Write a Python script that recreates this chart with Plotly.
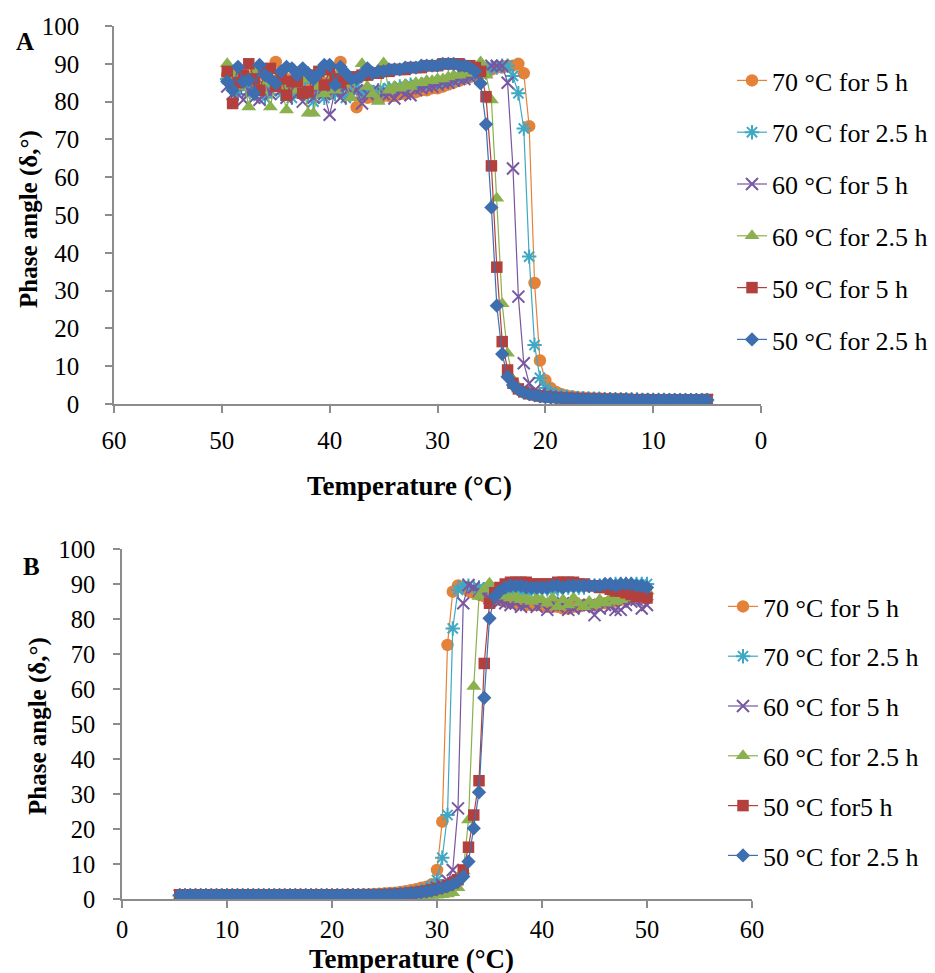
import plotly.graph_objects as go

# ---------------- DATA ----------------
NAMES_A = ["70 °C for 5 h", "70 °C for 2.5 h", "60 °C for 5 h",
           "60 °C for 2.5 h", "50 °C for 5 h", "50 °C for 2.5 h"]
NAMES_B = ["70 °C for 5 h", "70 °C for 2.5 h", "60 °C for 5 h",
           "60 °C for 2.5 h", "50 °C for5 h", "50 °C for 2.5 h"]

# Panel A: cooling scan (temperature decreasing)
TEMP_A = [49.5, 49.0, 48.5, 48.0, 47.5, 47.0, 46.5, 46.0, 45.5, 45.0,
          44.5, 44.0, 43.5, 43.0, 42.5, 42.0, 41.5, 41.0, 40.5, 40.0,
          39.5, 39.0, 38.5, 38.0, 37.5, 37.0, 36.5, 36.0, 35.5, 35.0,
          34.5, 34.0, 33.5, 33.0, 32.5, 32.0, 31.5, 31.0, 30.5, 30.0,
          29.5, 29.0, 28.5, 28.0, 27.5, 27.0, 26.5, 26.0, 25.5, 25.0,
          24.5, 24.0, 23.5, 23.0, 22.5, 22.0, 21.5, 21.0, 20.5, 20.0,
          19.5, 19.0, 18.5, 18.0, 17.5, 17.0, 16.5, 16.0, 15.5, 15.0,
          14.5, 14.0, 13.5, 13.0, 12.5, 12.0, 11.5, 11.0, 10.5, 10.0,
          9.5, 9.0, 8.5, 8.0, 7.5, 7.0, 6.5, 6.0, 5.5, 5.0]

A_70_5 = [87, 86, 88, 85, 84, 86, 83, 87, 85, 90.5,
          84, 86, 83, 85, 82, 84, 86, 83, 85, 82,
          84, 90.5, 85, 83, 78.5, 82, 81, 81.5, 81, 81.5,
          81.5, 81.5, 82, 82, 82.5, 82.5, 83, 83, 83.5, 83.5,
          84, 84.5, 85, 85.5, 86, 86.5, 87, 87.5, 88, 88.5,
          89, 89, 89.5, 89.5, 90, 87.5, 73.5, 32, 11.5, 6.3,
          4.2, 3.2, 2.6, 2.2, 2.0, 1.8, 1.7, 1.6, 1.5, 1.5,
          1.4, 1.4, 1.3, 1.3, 1.3, 1.2, 1.2, 1.2, 1.2, 1.1,
          1.1, 1.1, 1.1, 1.1, 1.0, 1.0, 1.0, 1.0, 1.0, 1.0]
A_70_25 = [86, 84, 82, 85, 83, 82, 84, 81, 83, 85,
           82, 84, 81, 83, 85, 82, 80, 83, 81, 84,
           82, 83, 81, 82, 84, 82, 83, 82.5, 83, 83,
           83.5, 83.5, 84, 84, 84.5, 84.5, 84.5, 85, 85, 85,
           85, 85.5, 85.5, 86, 86.5, 87, 87.5, 88, 88.5, 89,
           89, 89.5, 89.5, 86.8, 82.2, 72.9, 39, 15.6, 6.9, 4.2,
           3.0, 2.4, 2.1, 1.9, 1.7, 1.6, 1.5, 1.5, 1.4, 1.4,
           1.3, 1.3, 1.3, 1.2, 1.2, 1.2, 1.2, 1.1, 1.1, 1.1,
           1.1, 1.1, 1.0, 1.0, 1.0, 1.0, 1.0, 1.0, 1.0, 1.0]
A_60_5 = [84, 82, 86, 80.5, 83, 81, 80.5, 84, 82, 85,
          83, 81, 84, 82, 80, 83, 81, 84, 82, 76.5,
          83, 81, 84, 82, 83, 79.5, 82, 83, 81, 82,
          82, 80.8, 83, 82, 81.7, 83, 83.5, 84, 84, 84.5,
          85, 85, 85.5, 86, 86, 86.5, 87, 87.5, 88, 89.5,
          89.5, 89.5, 85, 62.3, 28.4, 10.8, 5.5, 3.6, 2.7, 2.2,
          1.9, 1.7, 1.6, 1.5, 1.4, 1.4, 1.3, 1.3, 1.3, 1.2,
          1.2, 1.2, 1.2, 1.1, 1.1, 1.1, 1.1, 1.1, 1.0, 1.0,
          1.0, 1.0, 1.0, 1.0, 1.0, 1.0, 1.0, 1.0, 1.0, 1.0]
A_60_25 = [90, 87, 84, 86, 78.6, 88, 83, 85, 78.6, 86,
           84, 77.8, 85, 83, 86, 76.9, 76.9, 84, 82, 86,
           83, 88, 85, 81, 86, 90, 84, 82, 80, 90.2,
           83, 84, 83.5, 84.5, 84, 85, 85, 85.5, 85.5, 86,
           86, 86.5, 87, 87, 87.5, 87.5, 88, 90.5, 87, 80.4,
           54.4, 26.5, 13.4, 6.5, 4.0, 3.0, 2.4, 2.0, 1.7, 1.5,
           1.3, 1.2, 1.1, 1.0, 1.0, 0.9, 0.9, 0.9, 0.8, 0.8,
           0.8, 0.8, 0.7, 0.7, 0.7, 0.7, 0.7, 0.6, 0.6, 0.6,
           0.6, 0.6, 0.6, 0.5, 0.5, 0.5, 0.5, 0.5, 0.5, 0.5]
A_50_5 = [88, 79.5, 85, 87, 90, 86, 83, 88, 88.8, 84,
          86, 81.7, 85.3, 85.3, 82.2, 82.6, 87, 88, 84.4, 88.4,
          86, 85, 86, 86.5, 86.5, 87, 87, 87.5, 87.5, 88,
          88, 88.5, 88.5, 88.5, 89, 89, 89, 89.5, 89.5, 89.5,
          90, 90, 90, 90, 89.5, 89.5, 89, 88, 81.3, 63,
          36.2, 16.5, 9.0, 5.5, 4.0, 3.2, 2.7, 2.4, 2.1, 1.9,
          1.8, 1.7, 1.6, 1.5, 1.5, 1.4, 1.4, 1.3, 1.3, 1.3,
          1.2, 1.2, 1.2, 1.2, 1.2, 1.1, 1.1, 1.1, 1.1, 1.1,
          1.1, 1.1, 1.1, 1.1, 1.1, 1.1, 1.1, 1.1, 1.1, 1.2]
A_50_25 = [85.3, 83, 89.2, 85.3, 85.7, 82.2, 89.7, 87, 86, 84.8,
           88, 89.2, 88.8, 87, 88.8, 87.5, 86, 87.5, 89.7, 89.7,
           84.4, 89.2, 87.5, 86, 86.1, 87, 88.8, 87.5, 88, 88,
           88.5, 88.5, 88.5, 89, 89, 89, 89.5, 89.5, 89.5, 89.5,
           90, 90, 90, 89.5, 89.5, 89, 88, 84.8, 74, 52,
           26, 13.2, 7.2, 5.0, 3.8, 3.0, 2.6, 2.3, 2.0, 1.8,
           1.7, 1.6, 1.5, 1.5, 1.4, 1.4, 1.3, 1.3, 1.3, 1.2,
           1.2, 1.2, 1.2, 1.2, 1.2, 1.2, 1.1, 1.1, 1.1, 1.1,
           1.1, 1.1, 1.1, 1.1, 1.1, 1.1, 1.1, 1.1, 1.1, 1.1]

# Panel B: heating scan (temperature increasing)
TEMP_B = [5.5, 6.0, 6.5, 7.0, 7.5, 8.0, 8.5, 9.0, 9.5, 10.0,
          10.5, 11.0, 11.5, 12.0, 12.5, 13.0, 13.5, 14.0, 14.5, 15.0,
          15.5, 16.0, 16.5, 17.0, 17.5, 18.0, 18.5, 19.0, 19.5, 20.0,
          20.5, 21.0, 21.5, 22.0, 22.5, 23.0, 23.5, 24.0, 24.5, 25.0,
          25.5, 26.0, 26.5, 27.0, 27.5, 28.0, 28.5, 29.0, 29.5, 30.0,
          30.5, 31.0, 31.5, 32.0, 32.5, 33.0, 33.5, 34.0, 34.5, 35.0,
          35.5, 36.0, 36.5, 37.0, 37.5, 38.0, 38.5, 39.0, 39.5, 40.0,
          40.5, 41.0, 41.5, 42.0, 42.5, 43.0, 43.5, 44.0, 44.5, 45.0,
          45.5, 46.0, 46.5, 47.0, 47.5, 48.0, 48.5, 49.0, 49.5, 50.0]

B_70_5 = [1.0, 1.0, 1.0, 1.0, 1.0, 1.0, 1.0, 1.0, 1.0, 1.0,
          1.0, 1.0, 1.0, 1.0, 1.0, 1.0, 1.0, 1.0, 1.0, 1.0,
          1.0, 1.0, 1.0, 1.0, 1.0, 1.1, 1.1, 1.1, 1.1, 1.1,
          1.1, 1.1, 1.2, 1.2, 1.2, 1.3, 1.3, 1.4, 1.5, 1.6,
          1.7, 1.8, 2.0, 2.2, 2.5, 2.8, 3.2, 3.5, 4.2, 8.3,
          22.1, 72.6, 87.8, 89.6, 89, 88, 87.5, 87, 86.5, 86,
          85.5, 85.5, 85, 85, 84.5, 84.5, 84, 84, 84, 84,
          83.5, 83.5, 83.5, 83, 83, 83.5, 83.5, 84, 84, 84,
          84.5, 84.5, 85, 85, 85.5, 85.5, 86, 86, 86.5, 87]
B_70_25 = [1.0, 1.0, 1.0, 1.0, 1.0, 1.0, 1.0, 1.0, 1.0, 1.0,
           1.0, 1.0, 1.0, 1.0, 1.0, 1.0, 1.0, 1.0, 1.0, 1.0,
           1.0, 1.0, 1.0, 1.0, 1.0, 1.0, 1.0, 1.0, 1.0, 1.0,
           1.0, 1.0, 1.0, 1.1, 1.1, 1.1, 1.1, 1.1, 1.1, 1.2,
           1.2, 1.3, 1.4, 1.5, 1.7, 2.0, 2.4, 2.9, 3.6, 5.4,
           11.8, 24, 77.3, 88.3, 89.5, 89.5, 89, 89, 88.5, 88.5,
           88.5, 88.5, 88, 88, 88, 88, 88, 88, 88.5, 88.5,
           88.5, 88.5, 88.5, 89, 89, 89, 89, 89, 89.5, 89.5,
           89.5, 89.5, 89.5, 90, 90, 90, 90, 90, 90, 90]
B_60_5 = [1.0, 1.0, 1.0, 1.0, 1.0, 1.0, 1.0, 1.0, 1.0, 1.0,
          1.0, 1.0, 1.0, 1.0, 1.0, 1.0, 1.0, 1.0, 1.0, 1.0,
          1.0, 1.0, 1.0, 1.0, 1.0, 1.0, 1.0, 1.0, 1.0, 1.0,
          1.0, 1.0, 1.0, 1.0, 1.0, 1.0, 1.0, 1.0, 1.0, 1.0,
          1.0, 1.1, 1.2, 1.3, 1.4, 1.6, 1.8, 2.1, 2.6, 3.2,
          4.0, 5.2, 8.3, 25.9, 84.5, 89.7, 89, 88, 87, 86,
          85.5, 85, 84.5, 84, 84.5, 83.5, 84, 85, 83.5, 84,
          82.6, 84, 83.5, 84.5, 82.6, 83, 84, 83.5, 84, 81.1,
          83, 84, 83.5, 82.6, 82.6, 84, 85, 85.5, 83, 84]
B_60_25 = [0.7, 0.7, 0.7, 0.7, 0.7, 0.7, 0.7, 0.7, 0.7, 0.7,
           0.7, 0.7, 0.7, 0.7, 0.7, 0.7, 0.7, 0.7, 0.7, 0.7,
           0.7, 0.7, 0.7, 0.7, 0.7, 0.7, 0.7, 0.7, 0.7, 0.7,
           0.7, 0.7, 0.7, 0.7, 0.7, 0.7, 0.8, 0.8, 0.8, 0.8,
           0.8, 0.8, 0.8, 0.8, 0.8, 0.9, 0.9, 1.0, 1.0, 1.1,
           1.2, 1.4, 1.8, 3.2, 8.0, 22.6, 60.7, 86.4, 88.5, 90.2,
           88, 87, 86.5, 86, 86.5, 85.5, 86, 85, 86, 85.5,
           84.5, 86, 83.5, 85.5, 84, 86, 84.5, 83.5, 85, 84,
           85.5, 84.5, 86, 85, 85.5, 86, 86.5, 87, 87.5, 88]
B_50_5 = [1.2, 1.2, 1.2, 1.2, 1.2, 1.2, 1.2, 1.2, 1.2, 1.2,
          1.2, 1.2, 1.2, 1.2, 1.2, 1.2, 1.2, 1.2, 1.2, 1.2,
          1.2, 1.2, 1.2, 1.2, 1.2, 1.2, 1.2, 1.2, 1.2, 1.2,
          1.2, 1.2, 1.2, 1.2, 1.2, 1.2, 1.2, 1.2, 1.2, 1.3,
          1.3, 1.4, 1.5, 1.6, 1.7, 1.9, 2.1, 2.3, 2.6, 3.0,
          3.4, 3.9, 4.6, 5.5, 8.3, 14.8, 24, 33.8, 67.3, 84.5,
          87.5, 89, 90, 90.5, 90.5, 90.5, 90.5, 90, 90, 90,
          90, 90, 90.5, 90.5, 90.5, 90.5, 90, 90, 89.5, 89.5,
          89, 89, 88.5, 88, 88, 87.5, 87, 86.5, 86.5, 86]
B_50_25 = [1.1, 1.1, 1.1, 1.1, 1.1, 1.1, 1.1, 1.1, 1.1, 1.1,
           1.1, 1.1, 1.1, 1.1, 1.1, 1.1, 1.1, 1.1, 1.1, 1.1,
           1.1, 1.1, 1.1, 1.1, 1.1, 1.1, 1.1, 1.1, 1.1, 1.1,
           1.1, 1.1, 1.1, 1.1, 1.1, 1.1, 1.1, 1.1, 1.1, 1.2,
           1.2, 1.3, 1.4, 1.5, 1.6, 1.7, 1.9, 2.1, 2.4, 2.8,
           3.2, 3.6, 4.2, 5.0, 6.4, 10.7, 20.2, 30.5, 57.5, 80.2,
           86.4, 88, 89, 89.5, 89.5, 89.5, 89, 89, 89, 89,
           89, 89.5, 89.5, 89, 89.5, 89.5, 89.5, 89.5, 89.5, 89.5,
           89.5, 90, 90, 89.5, 90, 90, 90, 89.5, 89.5, 89]

SERIES_A = [A_70_5, A_70_25, A_60_5, A_60_25, A_50_5, A_50_25]
SERIES_B = [B_70_5, B_70_25, B_60_5, B_60_25, B_50_5, B_50_25]

# ---------------- STYLE ----------------
COLORS = ["#E5823A", "#3FA8C4", "#7657A0", "#8BB04E", "#B3403D", "#3D6EB0"]
SYMBOLS = ["circle", "asterisk-open", "x-thin-open", "triangle-up", "square", "diamond"]
SIZES = [12.5, 12, 12, 13, 11.5, 11]
FONT = "Liberation Serif, Times New Roman, serif"
W, H = 935, 973
AXIS_COLOR = "#8C8C8C"


def px_x(p):
    return p / W


def px_y(p):
    return 1 - p / H


fig = go.Figure()

for k in range(6):
    marker = dict(symbol=SYMBOLS[k], size=SIZES[k], color=COLORS[k],
                  line=dict(width=2 if "open" in SYMBOLS[k] else 0, color=COLORS[k]))
    fig.add_trace(go.Scatter(
        x=TEMP_A, y=SERIES_A[k], mode="lines+markers", name=NAMES_A[k],
        line=dict(color=COLORS[k], width=1.2), marker=marker,
        xaxis="x", yaxis="y", legend="legend", legendgroup="a%d" % k))
for k in range(6):
    marker = dict(symbol=SYMBOLS[k], size=SIZES[k], color=COLORS[k],
                  line=dict(width=2 if "open" in SYMBOLS[k] else 0, color=COLORS[k]))
    fig.add_trace(go.Scatter(
        x=TEMP_B, y=SERIES_B[k], mode="lines+markers", name=NAMES_B[k],
        line=dict(color=COLORS[k], width=1.2), marker=marker,
        xaxis="x2", yaxis="y2", legend="legend2", legendgroup="b%d" % k))

axis_common = dict(showgrid=False, zeroline=False, showline=True, linecolor=AXIS_COLOR,
                   linewidth=1.5, ticks="outside", ticklen=7, tickwidth=1.5,
                   tickcolor=AXIS_COLOR, dtick=10, automargin=False,
                   tickfont=dict(family=FONT, size=25, color="black"))

fig.update_layout(
    width=W, height=H, margin=dict(l=0, r=0, t=0, b=0),
    paper_bgcolor="white", plot_bgcolor="white",
    font=dict(family=FONT, color="black"),
    xaxis=dict(axis_common, range=[60, 0], domain=[px_x(114), px_x(761)],
               anchor="y", ticklabelstandoff=6),
    yaxis=dict(axis_common, range=[0, 100], domain=[px_y(404), px_y(26)],
               anchor="x", ticklabelstandoff=21),
    xaxis2=dict(axis_common, range=[0, 60], domain=[px_x(122), px_x(752)],
                anchor="y2", ticklabelstandoff=1,
                tickfont=dict(family=FONT, size=24.5, color="black")),
    yaxis2=dict(axis_common, range=[0, 100], domain=[px_y(899), px_y(549)],
                anchor="x2", ticklabelstandoff=13,
                tickfont=dict(family=FONT, size=24.5, color="black")),
    legend=dict(x=px_x(732), y=px_y(57), xanchor="left", yanchor="top",
                font=dict(family=FONT, size=26, color="black"),
                traceorder="grouped", tracegroupgap=15, bgcolor="rgba(0,0,0,0)"),
    legend2=dict(x=px_x(723), y=px_y(583), xanchor="left", yanchor="top",
                 font=dict(family=FONT, size=26, color="black"),
                 traceorder="grouped", tracegroupgap=13, bgcolor="rgba(0,0,0,0)"),
    showlegend=True,
)

ann_font = dict(family=FONT, size=25, color="black")
annotations = [
    dict(text="<b>A</b>", x=px_x(25), y=px_y(42)),
    dict(text="<b>B</b>", x=px_x(31), y=px_y(566)),
    dict(text="<b>Phase angle (δ,°)</b>", x=px_x(29), y=px_y(219), textangle=-90),
    dict(text="<b>Phase angle (δ,°)</b>", x=px_x(38), y=px_y(726), textangle=-90),
    dict(text="<b>Temperature (°C)</b>", x=px_x(409), y=px_y(486), font_size=27),
    dict(text="<b>Temperature (°C)</b>", x=px_x(411), y=px_y(959), font_size=27),
]
for a in annotations:
    fs = a.pop("font_size", 25)
    a.update(xref="paper", yref="paper", showarrow=False,
             font=dict(family=FONT, size=fs, color="black"),
             xanchor="center", yanchor="middle")
fig.update_layout(annotations=annotations)

fig.write_html("out.html")
